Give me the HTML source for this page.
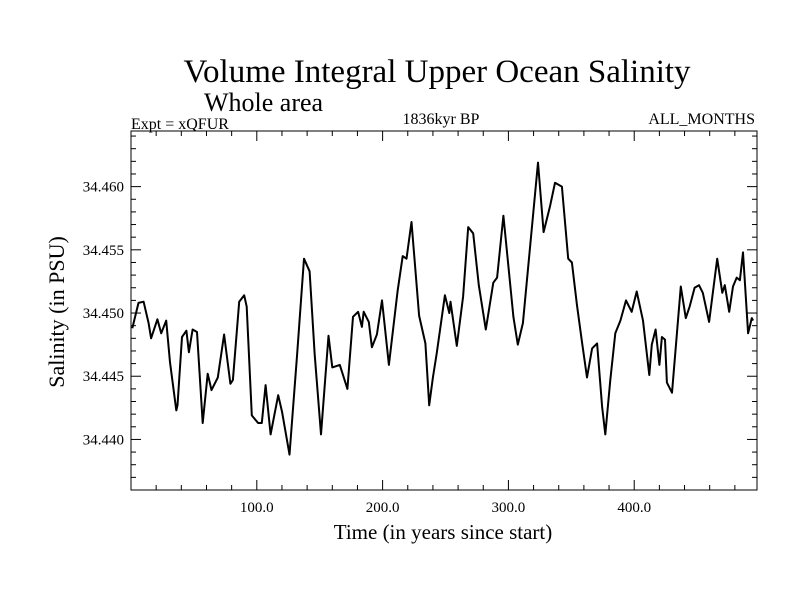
<!DOCTYPE html>
<html><head><meta charset="utf-8"><style>
body{margin:0;background:#fff;}
svg{display:block;font-family:"Liberation Serif",serif;}
</style></head><body>
<svg id="chart" width="800" height="600">
<rect width="800" height="600" fill="#fff"/>
<text x="437" y="82" font-size="33" text-anchor="middle">Volume Integral Upper Ocean Salinity</text>
<text x="204" y="111" font-size="26">Whole area</text>
<text x="131" y="129" font-size="16">Expt = xQFUR</text>
<text x="441" y="124" font-size="16" text-anchor="middle">1836kyr BP</text>
<text x="755" y="124" font-size="16" text-anchor="end">ALL_MONTHS</text>
<text x="443" y="539" font-size="21" text-anchor="middle">Time (in years since start)</text>
<text transform="translate(64,312) rotate(-90)" font-size="22" text-anchor="middle">Salinity (in PSU)</text>
<g id="axes"></g>
<path id="line" fill="none" stroke="#000" stroke-width="2" stroke-linejoin="round"/>
<rect x="131" y="131" width="626" height="359" fill="none" stroke="#000" stroke-width="1"/>
</svg>
<script>
const years=[1,6,10,14,16,21,24,28,31,36,37,40.5,44,46,49,52.5,57,61,64,69,74,79,81,86,90,92,96,101,104,107,111,117,120,126,132,137.5,142,146,151,157,160,166,172,176.5,180.5,183.5,185,189,191.5,195.5,199.5,205,212,216,219,223,229,234,237,240,243,249.5,253,254,259,264,268,272,276.5,282,288,291,296,304,307.5,311.5,317,323.5,328,333,337,342.5,347.5,350.5,354.5,358.5,362.5,366.5,370.5,374.5,377,381,385,389,393.5,398,402,407,410,412,414,417,420,422,424.5,426,430,437,441,444,448,451.5,454.5,459.5,466,470,472,475.5,478.5,481.5,484,486.5,490.5,493.5,494.5];
const salinity=[34.4488,34.4508,34.4509,34.4492,34.4480,34.4495,34.4484,34.4494,34.4461,34.4423,34.4427,34.4481,34.4486,34.4469,34.4487,34.4485,34.4413,34.4452,34.4439,34.4449,34.4483,34.4444,34.4447,34.4509,34.4514,34.4505,34.4419,34.4413,34.4413,34.4443,34.4404,34.4435,34.4422,34.4388,34.4467,34.4543,34.4533,34.4467,34.4404,34.4482,34.4457,34.4459,34.4440,34.4497,34.4501,34.4489,34.4501,34.4493,34.4473,34.4483,34.4510,34.4459,34.4518,34.4545,34.4543,34.4572,34.4498,34.4476,34.4427,34.4449,34.4468,34.4514,34.4500,34.4509,34.4474,34.4513,34.4568,34.4563,34.4522,34.4487,34.4524,34.4528,34.4577,34.4497,34.4475,34.4492,34.4550,34.4619,34.4564,34.4584,34.4603,34.4600,34.4543,34.4540,34.4506,34.4477,34.4449,34.4472,34.4476,34.4426,34.4404,34.4447,34.4484,34.4494,34.4510,34.4501,34.4517,34.4494,34.4468,34.4451,34.4475,34.4487,34.4459,34.4481,34.4479,34.4445,34.4437,34.4521,34.4496,34.4505,34.4520,34.4522,34.4516,34.4493,34.4543,34.4516,34.4522,34.4501,34.4521,34.4528,34.4526,34.4548,34.4484,34.4496,34.4494];
const xTicks=[100,200,300,400];
const xTickLabels=["100.0","200.0","300.0","400.0"];
const yTicks=[34.440,34.445,34.450,34.455,34.460];
const yTickLabels=["34.440","34.445","34.450","34.455","34.460"];
const X0=131,X1=757,Y0=131,Y1=490,XMIN=0,XMAX=497.6,YMIN=34.4360,YMAX=34.4644;
const sx=v=>X0+(v-XMIN)/(XMAX-XMIN)*(X1-X0);
const sy=v=>Y1-(v-YMIN)/(YMAX-YMIN)*(Y1-Y0);
const NS="http://www.w3.org/2000/svg";
const g=document.getElementById('axes');
function ln(x1,y1,x2,y2,name){const l=document.createElementNS(NS,'line');l.setAttribute('x1',x1);l.setAttribute('y1',y1);l.setAttribute('x2',x2);l.setAttribute('y2',y2);l.setAttribute('stroke','#000');l.setAttribute('stroke-width','1');


g.appendChild(l);}
function tx(x,y,s,anchor,name){const t=document.createElementNS(NS,'text');t.setAttribute('x',x);t.setAttribute('y',y);t.setAttribute('font-size','15');t.setAttribute('text-anchor',anchor);t.textContent=s;


g.appendChild(t);}
for(let v=20;v<XMAX;v+=20){const x=sx(v);const major=v%100===0;const L=major?10:5;ln(x,Y1,x,Y1-L,'x-tick');ln(x,Y0,x,Y0+L,'x-tick-top');}
xTicks.forEach((v,i)=>tx(sx(v),512,xTickLabels[i],'middle','x-tick-label'));
for(let k=Math.ceil(YMIN*1000);k<=Math.floor(YMAX*1000);k++){const v=k/1000;const y=sy(v);const major=k%5===0;const L=major?10:5;ln(X0,y,X0+L,y,'y-tick');ln(X1,y,X1-L,y,'y-tick-right');}
yTicks.forEach((v,i)=>tx(124,sy(v)+5,yTickLabels[i],'end','y-tick-label'));
document.getElementById('line').setAttribute('d',years.map((yr,i)=>(i?'L':'M')+sx(yr).toFixed(1)+','+sy(salinity[i]).toFixed(1)).join(''));
</script>
</body></html>
